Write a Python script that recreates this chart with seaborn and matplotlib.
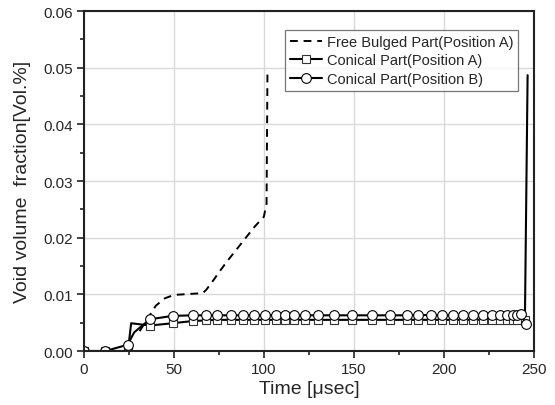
import numpy as np
import pandas as pd
import matplotlib
matplotlib.use("Agg")
import matplotlib.pyplot as plt
import seaborn as sns

# Free bulged part (position A) - dashed
free_x = [31, 35, 40, 45, 50, 55, 60, 66, 68, 72, 76, 80, 85, 90, 95, 100, 101.5, 102]
free_y = [0.0035, 0.0055, 0.0080, 0.0093, 0.0099, 0.0100, 0.0101, 0.0102, 0.0108, 0.0125,
          0.0143, 0.0160, 0.0180, 0.0200, 0.0220, 0.0237, 0.0260, 0.0488]

# marker times shared by the conical series
mark_x = [49.3, 60.7, 68, 74, 82, 88.5, 94.6, 100.9, 107, 111.7, 116.7, 122.8, 130.2, 138.9,
          148.7, 160, 170, 179.3, 185.7, 192.6, 198.7, 205.2, 210.7, 216.3, 221.8, 226.5,
          231.1, 234.8, 238.2, 240.4]

# Conical part (position A) - squares
conA_x = [0, 12, 24.5, 26.3, 36.8] + mark_x + [245, 246.5]
conA_y = [0, 0, 0, 0.0049, 0.0045, 0.0049, 0.0053, 0.0054, 0.0055, 0.0055, 0.0055, 0.0055,
          0.0055, 0.0055, 0.0055, 0.0055, 0.0055, 0.0055, 0.0055, 0.0055, 0.0055, 0.0055,
          0.0055, 0.0055, 0.0055, 0.0055, 0.0055, 0.0055, 0.0055, 0.0055, 0.0055, 0.0055,
          0.0055, 0.0055, 0.0055, 0.0055, 0.0487]
conA_mark = [0, 1, 2] + list(range(4, 4 + 1 + len(mark_x))) + [len(conA_x) - 2]

# Conical part (position B) - circles
conB_x = [0, 12, 24.3, 28, 36.7] + mark_x + [243, 245.4]
conB_y = [0, 0, 0.0011, 0.0033, 0.0056, 0.0062, 0.0063, 0.0063, 0.0063, 0.0063, 0.0063,
          0.0063, 0.0063, 0.0063, 0.0063, 0.0063, 0.0063, 0.0063, 0.0063, 0.0063, 0.0063,
          0.0063, 0.0063, 0.0064, 0.0063, 0.0063, 0.0063, 0.0064, 0.0063, 0.0063, 0.0063,
          0.0063, 0.0063, 0.0063, 0.0063, 0.0065, 0.0047]
conB_mark = [0, 1, 2] + list(range(4, len(conB_x)))

sns.set_style("white")
plt.rcParams['font.family'] = ['Liberation Sans', 'DejaVu Sans']

fig = plt.figure(figsize=(5.55, 4.06), dpi=100)
ax = fig.add_axes([0.151, 0.133, 0.811, 0.837])

sns.lineplot(x=free_x, y=free_y, ax=ax, color='black', lw=1.4, linestyle=(0, (4, 3)),
             sort=False, estimator=None, label='Free Bulged Part(Position A)')
sns.lineplot(x=conA_x, y=conA_y, ax=ax, color='black', lw=1.5, sort=False, estimator=None,
             marker='s', markersize=5.5, markerfacecolor='white', markeredgecolor='#333333',
             markeredgewidth=0.8, markevery=conA_mark, label='Conical Part(Position A)')
sns.lineplot(x=conB_x, y=conB_y, ax=ax, color='black', lw=1.5, sort=False, estimator=None,
             marker='o', markersize=7, markerfacecolor='white', markeredgecolor='black',
             markeredgewidth=0.8, markevery=conB_mark, label='Conical Part(Position B)')

ax.set_xlim(0, 250)
ax.set_ylim(0, 0.06)
ax.set_xticks([0, 50, 100, 150, 200, 250])
ax.set_xticks([25, 75, 125, 175, 225], minor=True)
ax.set_yticks(np.arange(0, 0.061, 0.01))
ax.set_yticks(np.arange(0.005, 0.06, 0.01), minor=True)
ax.set_yticklabels([f"{v:.2f}" for v in np.arange(0, 0.061, 0.01)])
ax.grid(True, which='major', color='#d9d9d9', lw=1)
ax.set_axisbelow(True)
ax.tick_params(which='major', direction='out', length=5, width=1.2, labelsize=11,
               bottom=True, left=True, color='#222222', pad=3)
ax.tick_params(which='minor', direction='out', length=3, width=1.2, bottom=True, left=True,
               color='#222222')
for s in ax.spines.values():
    s.set_color('#222222')
    s.set_linewidth(1.5)

ax.set_xlabel('Time [\u03bcsec]', fontsize=14, labelpad=3)
ax.set_ylabel('Void volume  fraction[Vol.%]', fontsize=14, labelpad=9)

leg = ax.legend(loc='upper right', bbox_to_anchor=(0.965, 0.945), fontsize=10.5,
                frameon=True, fancybox=False, edgecolor='#555555', handlelength=2.2,
                handletextpad=0.3, borderpad=0.35, labelspacing=0.3, borderaxespad=0)
leg.get_frame().set_linewidth(0.9)

fig.savefig('out.png', dpi=100)
